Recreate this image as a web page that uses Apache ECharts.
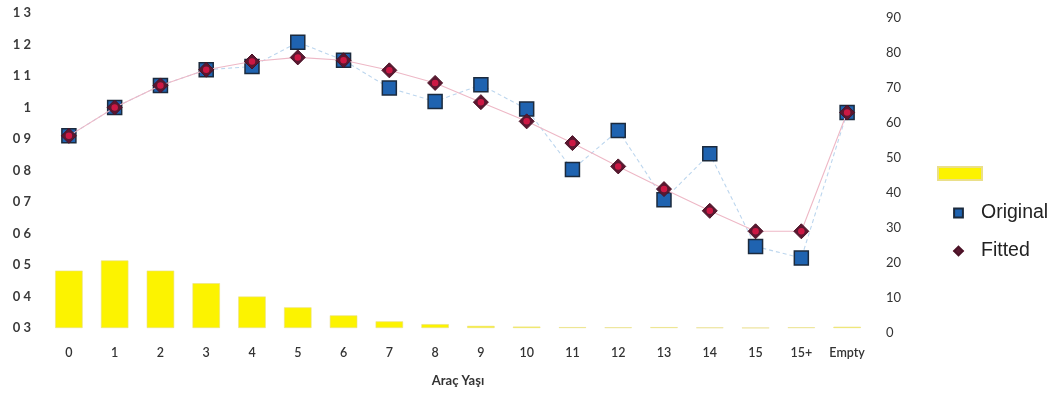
<!DOCTYPE html>
<html>
<head>
<meta charset="utf-8">
<script src="https://cdn.jsdelivr.net/npm/echarts@6/dist/echarts.min.js"></script>
<style>
html,body{margin:0;padding:0;background:#fff;}
#c{width:1058px;height:394px;}
</style>
</head>
<body>
<div id="c"></div>
<script>
var categories = ['0','1','2','3','4','5','6','7','8','9','10','11','12','13','14','15','15+','Empty'];
var countValues = [16.4,19.3,16.4,12.8,9.0,5.9,3.6,1.9,1.1,0.6,0.4,0.25,0.2,0.25,0.15,0.05,0.2,0.35];
var originalValues = [0.91,1.00,1.07,1.12,1.13,1.207,1.15,1.062,1.019,1.072,0.995,0.803,0.927,0.707,0.853,0.559,0.522,0.984];
var fittedValues = [0.91,1.00,1.07,1.12,1.146,1.159,1.15,1.118,1.078,1.017,0.956,0.887,0.813,0.741,0.672,0.607,0.607,0.984];
var leftTicks = {min:0.3, max:1.3, interval:0.1};
var rightTicks = {min:0, max:90, interval:10};

var chart = echarts.init(document.getElementById('c'), null, {renderer:'canvas'});
var font = 'Lato, "Open Sans", sans-serif';
var option = {
  animation:false,
  backgroundColor:'#ffffff',
  grid:[
    {left:46, right:188, top:13, bottom:66},
    {left:46, right:188, top:18, bottom:61}
  ],
  xAxis:[
    {type:'category', gridIndex:0, data:categories,
     axisLine:{show:false}, axisTick:{show:false},
     axisLabel:{color:'#333', fontFamily:font, fontSize:12.5, fontWeight:600, margin:18, interval:0},
     name:'Araç Yaşı', nameLocation:'middle', nameGap:46,
     nameTextStyle:{color:'#333', fontFamily:font, fontSize:13, fontWeight:'bold', verticalAlign:'top'}},
    {type:'category', gridIndex:1, data:categories, show:false}
  ],
  yAxis:[
    {type:'value', gridIndex:0, min:leftTicks.min, max:leftTicks.max, interval:leftTicks.interval,
     axisLine:{show:false}, axisTick:{show:false}, splitLine:{show:false},
     axisLabel:{color:'#3a3a3a', fontFamily:font, fontSize:13, fontWeight:'bold', margin:15,
       formatter:function(v){return String(Math.round(v*10)/10).replace('.',' ');}}},
    {type:'value', gridIndex:0, position:'right', min:rightTicks.min, max:rightTicks.max, interval:rightTicks.interval, show:false},
    {type:'value', gridIndex:1, position:'right', min:rightTicks.min, max:rightTicks.max, interval:rightTicks.interval,
     axisLine:{show:false}, axisTick:{show:false}, splitLine:{show:false},
     axisLabel:{color:'#333', fontFamily:font, fontSize:13, margin:16}}
  ],
  legend:[
    {data:[{name:'\u00a0', icon:'rect'}], orient:'vertical', left:932, top:161, itemWidth:44, itemHeight:13,
     textStyle:{fontSize:1}, selectedMode:false},
    {data:['Original','Fitted'], orient:'vertical', left:947, top:198, itemWidth:11, itemHeight:11, itemGap:18,
     textStyle:{color:'#222', fontFamily:'"Liberation Sans", Arial, sans-serif', fontSize:19.5, padding:[0,0,0,12]},
     selectedMode:false}
  ],
  series:[
    {name:'\u00a0', type:'bar', xAxisIndex:0, yAxisIndex:1, data:countValues, barWidth:'60%',
     itemStyle:{color:'#fcf300', borderColor:'#eadf8a', borderWidth:0.6}, z:1},
    {name:'Original', type:'line', xAxisIndex:0, yAxisIndex:0, data:originalValues,
     symbol:'rect', symbolSize:14,
     lineStyle:{color:'#bcd6ee', width:1.1, type:[4,3]},
     itemStyle:{color:'#1f63b0', borderColor:'#1b2a3d', borderWidth:1.5}, z:3},
    {name:'Fitted', type:'line', xAxisIndex:0, yAxisIndex:0, data:fittedValues,
     symbol:'diamond', symbolSize:15,
     lineStyle:{color:'#eeb8c6', width:1.1},
     itemStyle:{color:'#5a1830', borderColor:'#4a1226', borderWidth:1}, z:4},
    {name:'fittedDot', type:'scatter', xAxisIndex:0, yAxisIndex:0, data:fittedValues,
     symbol:'circle', symbolSize:6.5, itemStyle:{color:'#e8194a'}, z:5, silent:true}
  ]
};
chart.setOption(option);
</script>
</body>
</html>
